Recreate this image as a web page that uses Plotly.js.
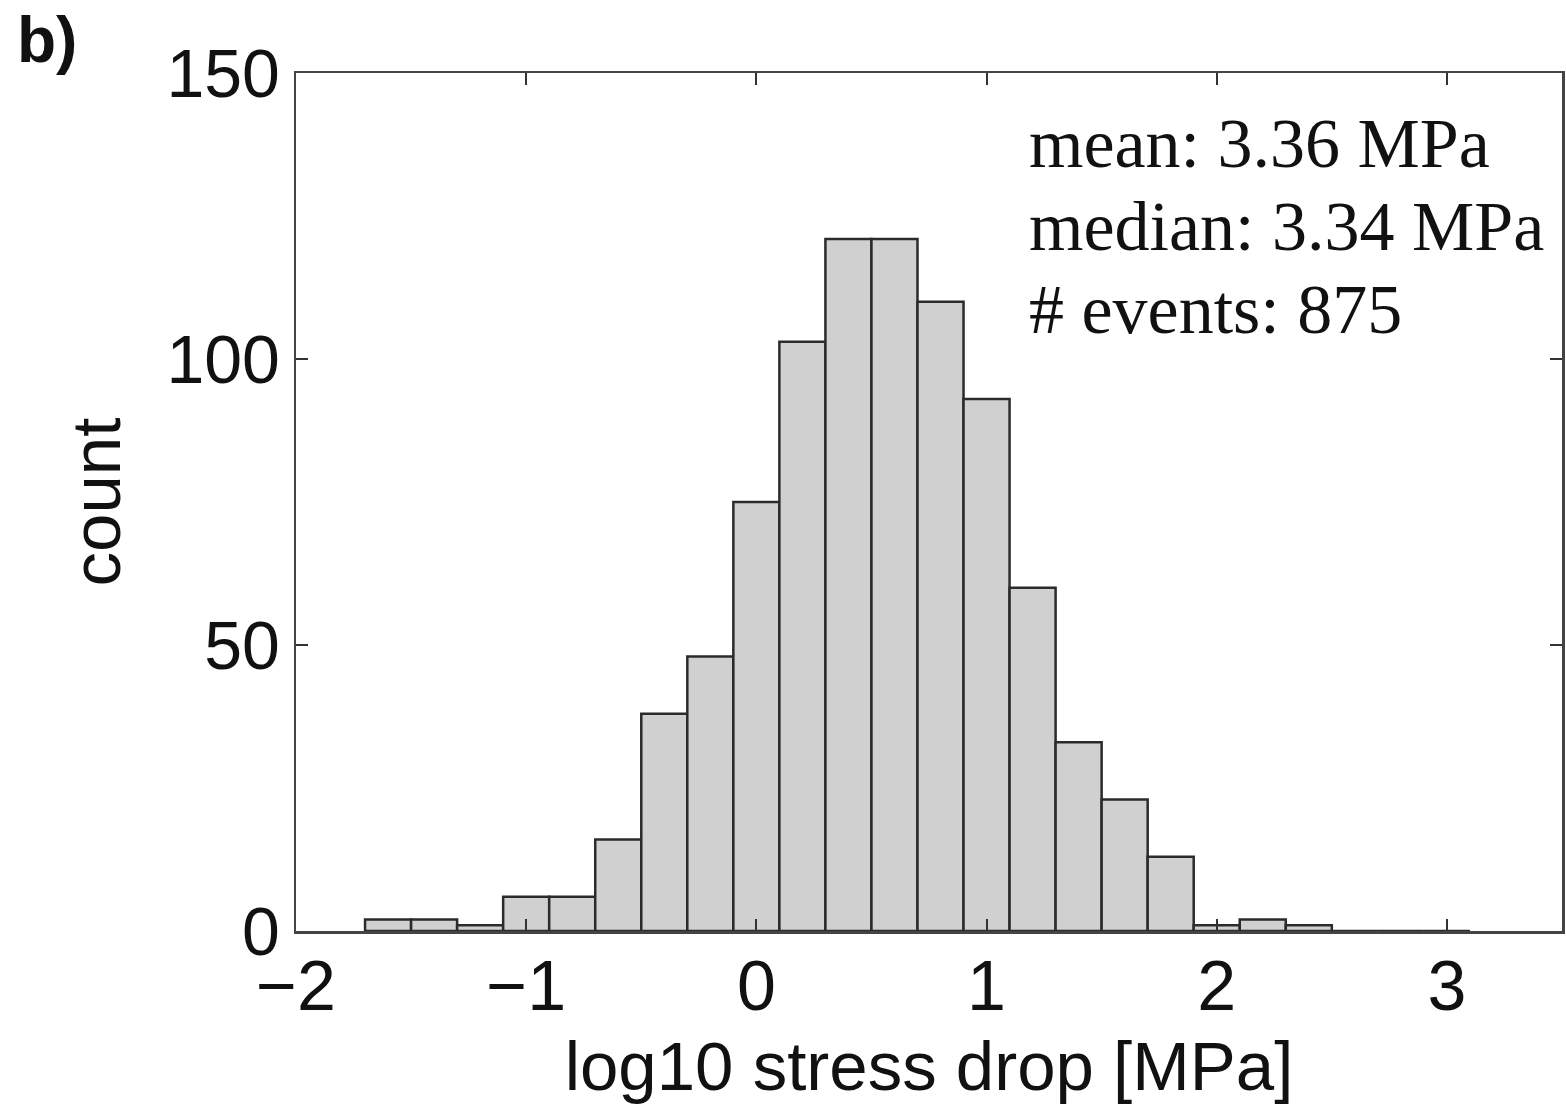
<!DOCTYPE html>
<html>
<head>
<meta charset="utf-8">
<script src="https://cdn.plot.ly/plotly-3.0.1.min.js"></script>
<style>html,body{margin:0;padding:0;background:#fff;}#chart{width:1566px;height:1107px;}</style>
</head>
<body>
<div id="chart"></div>
<script>
// Bin centres (log10 stress drop [MPa]) and counts per bin
const binCenters = [-1.6, -1.4, -1.2, -1.0, -0.8, -0.6, -0.4, -0.2, 0.0, 0.2, 0.4, 0.6, 0.8, 1.0, 1.2, 1.4, 1.6, 1.8, 2.0, 2.2, 2.4, 2.6, 2.8, 3.0];
const counts     = [2, 2, 1, 6, 6, 16, 38, 48, 75, 103, 121, 121, 110, 93, 60, 33, 23, 13, 1, 2, 1, 0, 0, 0];
const xTicks = [-2, -1, 0, 1, 2, 3];
const yTicks = [0, 50, 100, 150];
const statLines = ["mean: 3.36 MPa", "median: 3.34 MPa", "# events: 875"];
const panelLabel = "b)";
const xTitle = "log10 stress drop [MPa]";
const yTitle = "count";

const trace = {
  type: 'bar',
  x: binCenters,
  y: counts,
  width: 0.2,
  marker: {color: '#d0d0d0', line: {color: '#2b2b2b', width: 2.5}},
  hoverinfo: 'x+y'
};

const sans = 'Liberation Sans, Arial, sans-serif';
const serif = 'Liberation Serif, Times New Roman, serif';
const plotTop = 73, plotBottom = 931, plotH = plotBottom - plotTop;
const pyPaper = px => (plotBottom - px) / plotH;
const statCentersPx = [143, 226, 309];

const annotations = statLines.map((t, i) => ({
  xref: 'paper', yref: 'paper', x: 0.5775, y: pyPaper(statCentersPx[i]),
  xanchor: 'left', yanchor: 'middle', align: 'left', showarrow: false,
  text: t, font: {size: 70, family: serif, color: '#111'}
}));
annotations.push({
  xref: 'paper', yref: 'paper', x: -0.222, y: pyPaper(2), xanchor: 'left', yanchor: 'top',
  showarrow: false, text: '<b>' + panelLabel + '</b>',
  font: {size: 64, family: sans, color: '#111'}
});

const layout = {
  width: 1566, height: 1107,
  margin: {l: 296, r: 4, t: plotTop, b: 1107 - plotBottom},
  paper_bgcolor: '#fff', plot_bgcolor: '#fff',
  showlegend: false,
  font: {family: sans, color: '#111'},
  bargap: 0,
  xaxis: {
    range: [-2, 3.5], tickvals: xTicks, ticktext: xTicks.map(v => v < 0 ? '\u2212' + Math.abs(v) : String(v)),
    ticks: 'inside', ticklen: 12, tickwidth: 2, tickcolor: '#333',
    showline: true, linecolor: '#444', linewidth: 2.5, mirror: 'ticks',
    showgrid: false, zeroline: false, ticklabelstandoff: -8,
    tickfont: {size: 70, family: sans, color: '#111'},
    title: {text: xTitle, font: {size: 69, family: sans, color: '#111'}, standoff: 18}
  },
  yaxis: {
    range: [0, 150], tickvals: yTicks,
    ticks: 'inside', ticklen: 12, tickwidth: 2, tickcolor: '#333',
    showline: true, linecolor: '#444', linewidth: 2.5, mirror: 'ticks',
    showgrid: false, zeroline: false,
    tickfont: {size: 68, family: sans, color: '#111'},
    title: {text: yTitle, font: {size: 69, family: sans, color: '#111'}, standoff: 24}
  },
  annotations: annotations
};

Plotly.newPlot('chart', [trace], layout, {displayModeBar: false, staticPlot: true});
</script>
</body>
</html>
